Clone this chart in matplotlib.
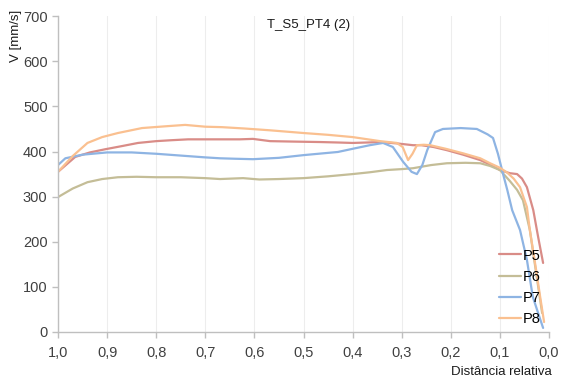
import matplotlib
matplotlib.use('Agg')
import matplotlib.pyplot as plt
import matplotlib.ticker as ticker

plt.rcParams['font.family'] = ['Liberation Sans', 'DejaVu Sans']

# Dados (distância relativa, velocidade mm/s)
x_p5 = [1.0, 0.965, 0.935, 0.904, 0.87, 0.837, 0.8, 0.77, 0.735, 0.7, 0.666, 0.63, 0.603, 0.568,
        0.52, 0.466, 0.43, 0.4, 0.37, 0.344, 0.31, 0.277, 0.26, 0.235, 0.208, 0.175, 0.14, 0.12,
        0.1, 0.08, 0.065, 0.055, 0.045, 0.032, 0.022, 0.012]
y_p5 = [355, 388, 398, 405, 412, 419, 423, 425, 427, 427, 427, 427, 428, 423,
        422, 421, 420, 419, 420, 421, 418, 414, 414, 410, 403, 393, 381, 371,
        359, 352, 350, 340, 321, 270, 210, 153]

x_p6 = [1.0, 0.97, 0.94, 0.91, 0.878, 0.84, 0.8, 0.75, 0.7, 0.67, 0.623, 0.59, 0.55, 0.5,
        0.45, 0.4, 0.365, 0.33, 0.3, 0.277, 0.24, 0.208, 0.17, 0.14, 0.12, 0.1, 0.08,
        0.065, 0.053, 0.039, 0.024, 0.014]
y_p6 = [299, 318, 332, 339, 343, 344, 343, 343, 341, 339, 341, 338, 339, 341,
        345, 350, 354, 359, 361, 363, 370, 374, 375, 374, 368, 359, 335,
        315, 292, 226, 115, 42]

x_p7 = [1.0, 0.985, 0.95, 0.9, 0.85, 0.8, 0.75, 0.7, 0.67, 0.64, 0.603, 0.55, 0.5, 0.43,
        0.4, 0.365, 0.338, 0.318, 0.297, 0.28, 0.269, 0.258, 0.248, 0.232, 0.216, 0.18,
        0.147, 0.125, 0.114, 0.104, 0.094, 0.085, 0.075, 0.059, 0.045, 0.033, 0.02, 0.012]
y_p7 = [370, 385, 393, 398, 398, 395, 391, 387, 385, 384, 383, 386, 392, 399,
        406, 414, 419, 410, 377, 355, 350, 370, 403, 443, 450, 452,
        450, 438, 430, 395, 352, 315, 270, 226, 160, 78, 35, 9]

x_p8 = [1.0, 0.97, 0.94, 0.91, 0.878, 0.829, 0.78, 0.741, 0.7, 0.666, 0.62, 0.568, 0.5, 0.45,
        0.4, 0.344, 0.31, 0.298, 0.287, 0.278, 0.269, 0.255, 0.242, 0.21, 0.175, 0.14,
        0.12, 0.1, 0.086, 0.072, 0.059, 0.045, 0.039, 0.028, 0.018, 0.01]
y_p8 = [355, 390, 419, 432, 441, 452, 456, 459, 455, 454, 451, 447, 441, 437,
        432, 423, 419, 410, 381, 395, 414, 415, 414, 406, 396, 385,
        374, 364, 354, 340, 321, 277, 226, 150, 78, 22]

series = [('P5', x_p5, y_p5, '#D98C87'),
          ('P6', x_p6, y_p6, '#C4BD97'),
          ('P7', x_p7, y_p7, '#8EB4E3'),
          ('P8', x_p8, y_p8, '#FAC090')]

fig = plt.figure(figsize=(5.61, 3.85), dpi=100)
ax = fig.add_axes([0.1034, 0.1377, 0.8752, 0.8203])

for name, xs, ys, col in series:
    ax.plot(xs, ys, color=col, linewidth=1.6, label=name,
            solid_joinstyle='round', solid_capstyle='round')

ax.set_xlim(1.0, 0.0)
ax.set_ylim(0, 700)
ax.xaxis.set_major_locator(ticker.MultipleLocator(0.1))
ax.yaxis.set_major_locator(ticker.MultipleLocator(100))
ax.xaxis.set_major_formatter(ticker.FuncFormatter(lambda v, p: f'{v:.1f}'.replace('.', ',')))

ax.grid(axis='x', color='#EDEDED', linewidth=0.8)
ax.grid(axis='y', visible=False)
ax.set_axisbelow(True)

for s in ['top', 'right']:
    ax.spines[s].set_visible(False)
for s in ['left', 'bottom']:
    ax.spines[s].set_color('#BFBFBF')
    ax.spines[s].set_linewidth(1.0)

ax.tick_params(axis='both', colors='#BFBFBF', labelcolor='#404040',
               labelsize=10.5, length=4, width=1.0, direction='out')
ax.tick_params(axis='x', pad=6)

fig.text(0.55, 0.935, 'T_S5_PT4 (2)', ha='center', va='center', fontsize=9.5, color='#1a1a1a')
fig.text(0.028, 0.974, 'V [mm/s]', rotation=90, ha='center', va='top', fontsize=9.5, color='#1a1a1a')
fig.text(0.984, 0.034, 'Distância relativa', ha='right', va='center', fontsize=9.5, color='#1a1a1a')

leg = ax.legend(loc='lower right', bbox_to_anchor=(1.0, -0.01), frameon=False,
                fontsize=10.5, handlelength=1.5, handletextpad=0.1, labelspacing=0.5,
                borderaxespad=0.2)

fig.savefig('out.png', dpi=100)
